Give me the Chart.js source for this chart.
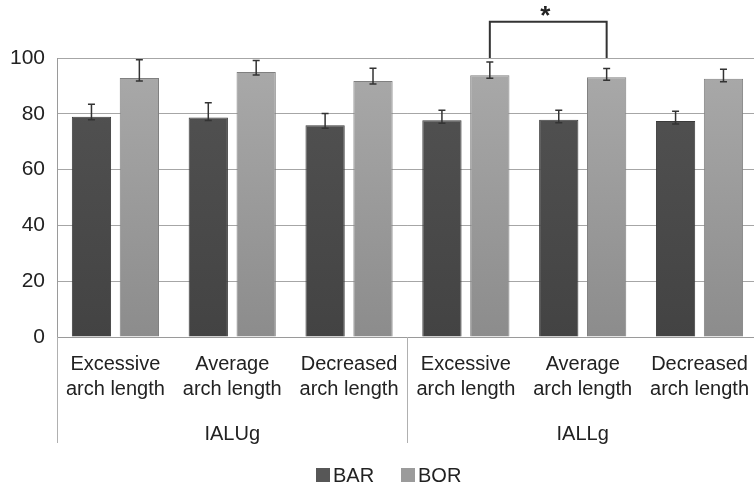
<!DOCTYPE html>
<html>
<head>
<meta charset="utf-8">
<script src="https://cdn.jsdelivr.net/npm/chart.js@4/dist/chart.umd.min.js"></script>
<style>
    html, body { margin: 0; padding: 0; background: #fff; overflow: hidden; }
    #wrap { width: 764px; height: 487px; }
</style>
</head>
<body>
<div id="wrap"><canvas id="grafico" width="764" height="487"></canvas></div>
<script>
// Chart data
const categorias = [
    ['Excessive', 'arch length'], ['Average', 'arch length'], ['Decreased', 'arch length'],
    ['Excessive', 'arch length'], ['Average', 'arch length'], ['Decreased', 'arch length']
];
const grupos = ['IALUg', 'IALLg'];
const barValores = [78.9, 78.7, 75.9, 77.7, 77.9, 77.4];
const barErros = [4.5, 5.3, 4.2, 3.6, 3.4, 3.5];
const borValores = [92.8, 95.0, 91.8, 93.8, 93.1, 92.6];
const borErros = [6.6, 4.1, 4.5, 4.8, 3.1, 3.4];
const yTicks = [0, 20, 40, 60, 80, 100];
// significance bracket between BOR bars of categories 4 and 5
const significancia = { serie: 1, de: 3, ate: 4, nivel: 113, texto: '*' };

const FONTE = '"Liberation Sans", Arial, sans-serif';

// vertical gradient for the bars
function gradiente(topo, base) {
    return (context) => {
        const { chart } = context;
        const area = chart.chartArea;
        if (!area) return base;
        const g = chart.ctx.createLinearGradient(0, area.top, 0, area.bottom);
        g.addColorStop(0, topo);
        g.addColorStop(1, base);
        return g;
    };
}

// error bars drawn on top of each bar
const errorBars = {
    id: 'errorBars',
    afterDatasetsDraw(chart) {
        const ctx = chart.ctx;
        const y = chart.scales.y;
        chart.data.datasets.forEach((ds, i) => {
            chart.getDatasetMeta(i).data.forEach((bar, j) => {
                const topo = y.getPixelForValue(ds.data[j] + ds.erros[j]);
                const base = bar.y + 3;
                ctx.save();
                ctx.strokeStyle = '#333';
                ctx.lineWidth = 1.5;
                ctx.beginPath();
                ctx.moveTo(bar.x, base);
                ctx.lineTo(bar.x, topo);
                ctx.moveTo(bar.x - 3.5, topo);
                ctx.lineTo(bar.x + 3.5, topo);
                ctx.moveTo(bar.x - 3.5, base);
                ctx.lineTo(bar.x + 3.5, base);
                ctx.stroke();
                ctx.restore();
            });
        });
    }
};

// group labels, dividers, significance bracket and legend
const extras = {
    id: 'extras',
    afterDraw(chart) {
        const ctx = chart.ctx;
        const x = chart.scales.x;
        const y = chart.scales.y;
        const area = chart.chartArea;
        ctx.save();

        // group dividers
        ctx.strokeStyle = '#b0b0b0';
        ctx.lineWidth = 1;
        [-0.5, 2.5, 5.5].forEach(v => {
            const px = Math.round(x.getPixelForValue(v)) + 0.5;
            ctx.beginPath();
            ctx.moveTo(px, area.bottom);
            ctx.lineTo(px, area.bottom + 106);
            ctx.stroke();
        });

        // group labels
        ctx.fillStyle = '#222';
        ctx.font = '20px ' + FONTE;
        ctx.textAlign = 'center';
        ctx.textBaseline = 'middle';
        grupos.forEach((g, k) => {
            const cx = (x.getPixelForValue(k * 3) + x.getPixelForValue(k * 3 + 2)) / 2;
            ctx.fillText(g, cx, area.bottom + 97);
        });

        // significance bracket
        const meta = chart.getDatasetMeta(significancia.serie);
        const a = meta.data[significancia.de];
        const b = meta.data[significancia.ate];
        const topo = y.getPixelForValue(significancia.nivel);
        const pe = y.getPixelForValue(100);
        ctx.strokeStyle = '#333';
        ctx.lineWidth = 2;
        ctx.beginPath();
        ctx.moveTo(a.x, pe);
        ctx.lineTo(a.x, topo);
        ctx.lineTo(b.x, topo);
        ctx.lineTo(b.x, pe);
        ctx.stroke();
        ctx.font = 'bold 26px ' + FONTE;
        ctx.textBaseline = 'alphabetic';
        ctx.fillText(significancia.texto, (a.x + b.x) / 2 - 3, topo + 2);

        // legend
        ctx.font = '20px ' + FONTE;
        ctx.textAlign = 'left';
        ctx.textBaseline = 'middle';
        let lx = 316;
        const ly = 475;
        chart.data.datasets.forEach(ds => {
            ctx.fillStyle = ds.corLegenda;
            ctx.fillRect(lx, ly - 7, 14, 14);
            ctx.fillStyle = '#222';
            ctx.fillText(ds.label, lx + 17, ly + 1);
            lx += 85;
        });
        ctx.restore();
    }
};

new Chart(document.getElementById('grafico'), {
    type: 'bar',
    data: {
        labels: categorias,
        datasets: [{
            label: 'BAR',
            data: barValores,
            erros: barErros,
            corLegenda: '#575757',
            backgroundColor: gradiente('#535353', '#434343'),
            borderColor: '#3a3a3a',
            borderWidth: 1,
            categoryPercentage: 0.82,
            barPercentage: 0.82
        }, {
            label: 'BOR',
            data: borValores,
            erros: borErros,
            corLegenda: '#9b9b9b',
            backgroundColor: gradiente('#aaaaaa', '#8c8c8c'),
            borderColor: '#808080',
            borderWidth: 1,
            categoryPercentage: 0.82,
            barPercentage: 0.82
        }]
    },
    options: {
        responsive: false,
        animation: false,
        devicePixelRatio: 1,
        layout: { padding: { top: 58, right: 0, bottom: 0, left: 0 } },
        plugins: {
            legend: { display: false },
            tooltip: { enabled: false }
        },
        scales: {
            x: {
                grid: { display: true, drawOnChartArea: false, drawTicks: false },
                border: { display: true, color: '#9a9a9a' },
                ticks: {
                    color: '#222',
                    font: { size: 20, family: FONTE, lineHeight: 1.25 },
                    padding: 15,
                    maxRotation: 0,
                    autoSkip: false
                },
                afterFit: s => { s.height = 150; }
            },
            y: {
                min: 0,
                max: 100,
                afterBuildTicks: s => { s.ticks = yTicks.map(v => ({ value: v })); },
                grid: { color: '#a6a6a6', drawTicks: false },
                border: { display: true, color: '#9a9a9a' },
                ticks: {
                    color: '#222',
                    font: { size: 21, family: FONTE },
                    padding: 12
                },
                afterFit: s => { s.width = 57; }
            }
        }
    },
    plugins: [errorBars, extras]
});
</script>
</body>
</html>
